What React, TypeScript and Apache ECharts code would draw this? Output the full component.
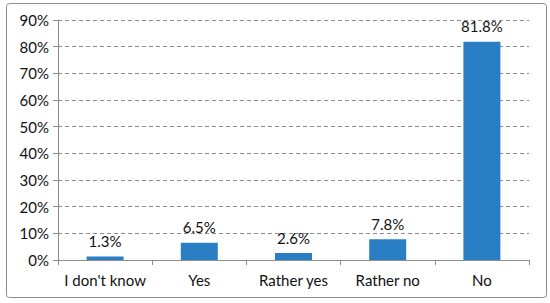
import React, { useEffect, useRef } from "react";
import * as echarts from "echarts";

const categories = ["I don't know", "Yes", "Rather yes", "Rather no", "No"];
const values = [1.3, 6.5, 2.6, 7.8, 81.8];
const yTicks = [0, 10, 20, 30, 40, 50, 60, 70, 80, 90];

export default function App() {
  const ref = useRef<HTMLDivElement>(null);
  useEffect(() => {
    if (!ref.current) return;
    const chart = echarts.init(ref.current, undefined, { renderer: "svg" });
    const font = "Lato, Open Sans, sans-serif";
    chart.setOption({
      animation: false,
      graphic: [
        {
          type: "rect",
          shape: { x: 6.5, y: 3.5, width: 540, height: 294, r: 3 },
          style: { fill: "none", stroke: "#8c8c8c", lineWidth: 1 },
          silent: true,
        },
      ],
      grid: { left: 58, right: 21, top: 20, bottom: 43 },
      xAxis: {
        type: "category",
        data: categories,
        axisLine: { lineStyle: { color: "#8c8c8c" } },
        axisTick: { show: true, alignWithLabel: false, length: 5, lineStyle: { color: "#8c8c8c" } },
        axisLabel: { color: "#111", fontSize: 15, fontFamily: font, margin: 12, interval: 0 },
      },
      yAxis: {
        type: "value",
        min: yTicks[0],
        max: yTicks[yTicks.length - 1],
        interval: 10,
        axisLine: { show: true, lineStyle: { color: "#8c8c8c" } },
        axisTick: { show: true, length: 5, lineStyle: { color: "#8c8c8c" } },
        axisLabel: { color: "#111", fontSize: 15, fontFamily: font, margin: 9, formatter: "{value}%" },
        splitLine: { show: true, lineStyle: { color: "#8c8c8c", type: [4, 3] } },
      },
      series: [
        {
          type: "bar",
          data: values,
          barWidth: 37,
          itemStyle: { color: "#2a7fc4" },
          label: {
            show: true,
            position: "top",
            distance: 8,
            color: "#111",
            fontSize: 15,
            fontFamily: font,
            formatter: (p: any) => p.value.toFixed(1) + "%",
          },
        },
      ],
    });
    return () => chart.dispose();
  }, []);
  return <div ref={ref} style={{ position: "fixed", left: 0, top: 0, width: 550, height: 303, background: "#fff" }} />;
}
